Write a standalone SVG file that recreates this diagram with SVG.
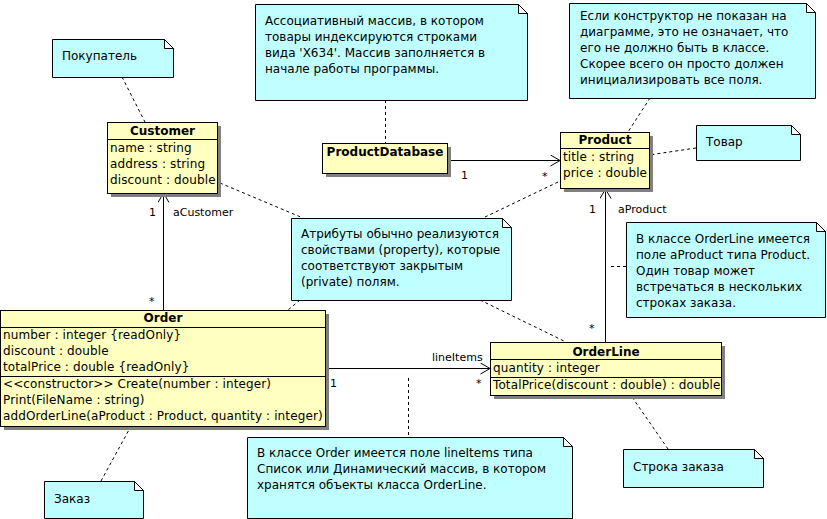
<svg xmlns="http://www.w3.org/2000/svg" width="827" height="519" viewBox="0 0 827 519">
<style>
text{font-family:"DejaVu Sans","Liberation Sans",sans-serif;font-size:12px;fill:#000}
.t{font-weight:bold;text-anchor:middle}
.m{letter-spacing:0.12px}
.lbl{font-size:11px}
.cls{fill:#FFFFC0;stroke:#000;stroke-width:1}
.sh{fill:#808080}
.sep{stroke:#000;stroke-width:1}
.note{fill:#C0FFFF;stroke:#000;stroke-width:1}
.fold{fill:#fff;stroke:#000;stroke-width:1}
.assoc{stroke:#000;stroke-width:1;fill:none}
.dash{stroke:#000;stroke-width:1;fill:none;stroke-dasharray:3,3}
</style>
<defs>
<marker id="open" markerWidth="11" markerHeight="12" refX="10" refY="6" orient="auto" markerUnits="userSpaceOnUse">
<path d="M0.5,0.5 L10,6 L0.5,11.5" fill="none" stroke="#000" stroke-width="1"/>
</marker>
</defs>
<rect width="827" height="519" fill="#fff"/>

<g id="connectors">
<line class="assoc" x1="447" y1="160.5" x2="560" y2="160.5" marker-end="url(#open)"/>
<line class="assoc" x1="163.5" y1="310" x2="163.5" y2="193" marker-end="url(#open)"/>
<line class="assoc" x1="325" y1="368.5" x2="490" y2="368.5" marker-end="url(#open)"/>
<line class="assoc" x1="605.5" y1="342" x2="605.5" y2="189" marker-end="url(#open)"/>
<text class="lbl" x="461" y="179">1</text>
<text class="lbl" x="542" y="180">*</text>
<text class="lbl" x="149" y="216">1</text>
<text class="lbl" x="173" y="216">aCustomer</text>
<text class="lbl" x="149" y="305">*</text>
<text class="lbl" x="330" y="387">1</text>
<text class="lbl" x="432" y="361">lineItems</text>
<text class="lbl" x="476" y="387">*</text>
<text class="lbl" x="589" y="213">1</text>
<text class="lbl" x="618" y="213">aProduct</text>
<text class="lbl" x="589" y="332">*</text>
<line class="dash" x1="122" y1="77" x2="145" y2="122"/>
<line class="dash" x1="385.5" y1="100" x2="385.5" y2="143"/>
<line class="dash" x1="650" y1="98" x2="628" y2="132"/>
<line class="dash" x1="696" y1="148" x2="649" y2="155"/>
<line class="dash" x1="220" y1="183" x2="303" y2="218"/>
<line class="dash" x1="558" y1="182" x2="483" y2="218"/>
<line class="dash" x1="300" y1="300" x2="288" y2="310"/>
<line class="dash" x1="480" y1="300" x2="566" y2="342"/>
<line class="dash" x1="626" y1="266.5" x2="608" y2="266.5"/>
<line class="dash" x1="408.5" y1="378" x2="408.5" y2="437"/>
<line class="dash" x1="101" y1="481" x2="130" y2="428"/>
<line class="dash" x1="668" y1="449" x2="632" y2="397"/>
</g>

<g id="note-pokupatel">
<path class="note" d="M52.5,39.5 H164.5 L173.5,48.5 V77.5 H52.5 Z"/>
<path class="fold" d="M164.5,39.5 V48.5 H173.5 Z"/>
<text x="62" y="60">Покупатель</text>
</g>

<g id="note-productdb">
<path class="note" d="M255.5,4.5 H518.5 L527.5,13.5 V100.5 H255.5 Z"/>
<path class="fold" d="M518.5,4.5 V13.5 H527.5 Z"/>
<text x="265" y="25">Ассоциативный массив, в котором</text>
<text x="265" y="41">товары индексируются строками</text>
<text x="265" y="57">вида 'X634'. Массив заполняется в</text>
<text x="265" y="73">начале работы программы.</text>
</g>

<g id="note-constructor">
<path class="note" d="M569.5,3.5 H806.5 L815.5,12.5 V98.5 H569.5 Z"/>
<path class="fold" d="M806.5,3.5 V12.5 H815.5 Z"/>
<text x="580" y="20">Если конструктор не показан на</text>
<text x="580" y="36">диаграмме, это не означает, что</text>
<text x="580" y="52">его не должно быть в классе.</text>
<text x="580" y="68">Скорее всего он просто должен</text>
<text x="580" y="84">инициализировать все поля.</text>
</g>

<g id="note-tovar">
<path class="note" d="M696.5,125.5 H791.5 L800.5,134.5 V160.5 H696.5 Z"/>
<path class="fold" d="M791.5,125.5 V134.5 H800.5 Z"/>
<text x="706" y="146">Товар</text>
</g>

<g id="note-attributes">
<path class="note" d="M291.5,218.5 H502.5 L511.5,227.5 V300.5 H291.5 Z"/>
<path class="fold" d="M502.5,218.5 V227.5 H511.5 Z"/>
<text x="301" y="238">Атрибуты обычно реализуются</text>
<text x="301" y="254">свойствами (property), которые</text>
<text x="301" y="270">соответствуют закрытым</text>
<text x="301" y="286">(private) полям.</text>
</g>

<g id="note-orderline">
<path class="note" d="M626.5,222.5 H816.5 L825.5,231.5 V317.5 H626.5 Z"/>
<path class="fold" d="M816.5,222.5 V231.5 H825.5 Z"/>
<text x="636" y="243">В классе OrderLine имеется</text>
<text x="636" y="259">поле aProduct типа Product.</text>
<text x="636" y="275">Один товар может</text>
<text x="636" y="291">встречаться в нескольких</text>
<text x="636" y="307">строках заказа.</text>
</g>

<g id="note-order">
<path class="note" d="M247.5,437.5 H563.5 L572.5,446.5 V518.5 H247.5 Z"/>
<path class="fold" d="M563.5,437.5 V446.5 H572.5 Z"/>
<text x="257" y="457">В классе Order имеется поле lineItems типа</text>
<text x="257" y="473">Список или Динамический массив, в котором</text>
<text x="257" y="489">хранятся объекты класса OrderLine.</text>
</g>

<g id="note-zakaz">
<path class="note" d="M44.5,481.5 H134.5 L143.5,490.5 V518.5 H44.5 Z"/>
<path class="fold" d="M134.5,481.5 V490.5 H143.5 Z"/>
<text x="54" y="503">Заказ</text>
</g>

<g id="note-stroka">
<path class="note" d="M623.5,449.5 H754.5 L763.5,458.5 V487.5 H623.5 Z"/>
<path class="fold" d="M754.5,449.5 V458.5 H763.5 Z"/>
<text x="633" y="471">Строка заказа</text>
</g>

<g id="class-customer">
<rect class="sh" x="111" y="126" width="110" height="71"/>
<rect class="cls" x="107.5" y="122.5" width="110" height="71"/>
<line class="sep" x1="107.5" y1="139.5" x2="217.5" y2="139.5"/>
<text class="t" x="162.5" y="135">Customer</text>
<text class="m" x="110" y="152">name : string</text>
<text class="m" x="110" y="168">address : string</text>
<text class="m" x="110" y="184">discount : double</text>
</g>

<g id="class-productdatabase">
<rect class="sh" x="326" y="147" width="125" height="30"/>
<rect class="cls" x="322.5" y="143.5" width="125" height="30"/>
<text class="t" x="385" y="156">ProductDatabase</text>
</g>

<g id="class-product">
<rect class="sh" x="564" y="136" width="89" height="56"/>
<rect class="cls" x="560.5" y="132.5" width="89" height="56"/>
<line class="sep" x1="560.5" y1="148.5" x2="649.5" y2="148.5"/>
<text class="t" x="605" y="144">Product</text>
<text class="m" x="563" y="161">title : string</text>
<text class="m" x="563" y="177">price : double</text>
</g>

<g id="class-order">
<rect class="sh" x="4" y="314" width="325" height="116"/>
<rect class="cls" x="0.5" y="310.5" width="325" height="116"/>
<line class="sep" x1="0.5" y1="327.5" x2="325.5" y2="327.5"/>
<line class="sep" x1="0.5" y1="376.5" x2="325.5" y2="376.5"/>
<text class="t" x="163" y="322">Order</text>
<text class="m" x="3" y="339">number : integer {readOnly}</text>
<text class="m" x="3" y="355">discount : double</text>
<text class="m" x="3" y="371">totalPrice : double {readOnly}</text>
<text class="m" x="3" y="388">&lt;&lt;constructor&gt;&gt;  Create(number : integer)</text>
<text class="m" x="3" y="404">Print(FileName : string)</text>
<text class="m" x="3" y="420">addOrderLine(aProduct : Product, quantity : integer)</text>
</g>

<g id="class-orderline">
<rect class="sh" x="494" y="346" width="231" height="53"/>
<rect class="cls" x="490.5" y="342.5" width="231" height="53"/>
<line class="sep" x1="490.5" y1="359.5" x2="721.5" y2="359.5"/>
<line class="sep" x1="490.5" y1="377.5" x2="721.5" y2="377.5"/>
<text class="t" x="606" y="356">OrderLine</text>
<text class="m" x="493" y="372">quantity : integer</text>
<text class="m" x="493" y="389">TotalPrice(discount : double) : double</text>
</g>
</svg>
